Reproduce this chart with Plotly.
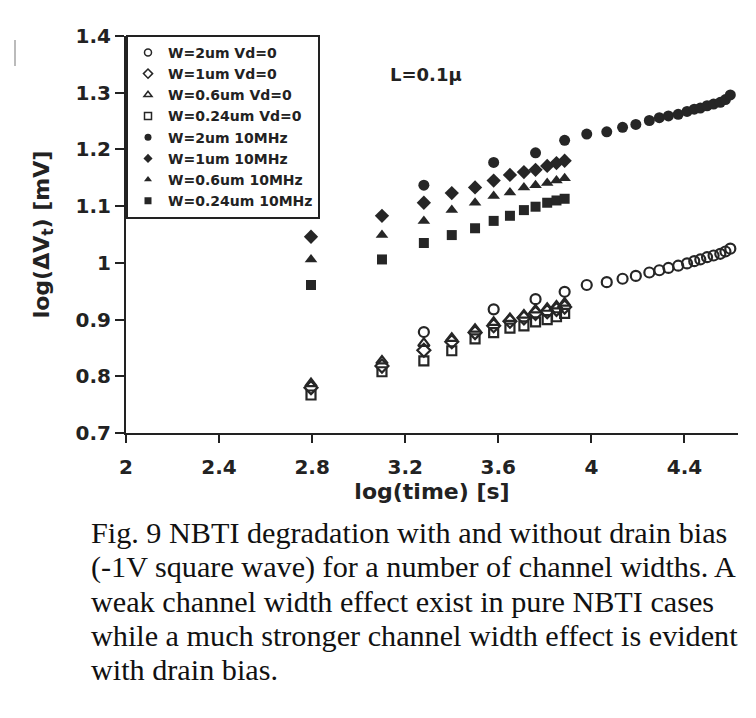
import plotly.graph_objects as go

# ---- data ----
x_groups = [2.795, 3.10, 3.28, 3.40, 3.50, 3.58, 3.65, 3.71, 3.76, 3.81, 3.85, 3.885]
x_long_tail = [3.98, 4.066, 4.134, 4.191, 4.249, 4.292, 4.331, 4.373, 4.411, 4.442,
               4.468, 4.497, 4.525, 4.554, 4.576, 4.597]
x_2um = [3.28, 3.58, 3.76, 3.885] + x_long_tail

y_2um_vd0 = [0.878, 0.918, 0.936, 0.949,
             0.961, 0.966, 0.972, 0.977, 0.983, 0.987, 0.991, 0.995, 0.999, 1.003,
             1.006, 1.010, 1.013, 1.016, 1.020, 1.025]
y_1um_vd0 = [0.780, 0.818, 0.846, 0.861, 0.877, 0.889, 0.897, 0.903, 0.911, 0.914, 0.918, 0.922]
y_06um_vd0 = [0.787, 0.827, 0.858, 0.867, 0.883, 0.895, 0.902, 0.908, 0.917, 0.920, 0.924, 0.929]
y_024um_vd0 = [0.767, 0.808, 0.827, 0.845, 0.866, 0.877, 0.885, 0.889, 0.896, 0.900, 0.905, 0.911]

y_2um_10m = [1.137, 1.177, 1.194, 1.216,
             1.227, 1.231, 1.239, 1.244, 1.251, 1.256, 1.259, 1.262, 1.267, 1.271,
             1.273, 1.277, 1.280, 1.283, 1.288, 1.296]
y_1um_10m = [1.046, 1.083, 1.106, 1.123, 1.133, 1.145, 1.155, 1.160, 1.164, 1.171, 1.176, 1.180]
y_06um_10m = [1.006, 1.049, 1.074, 1.093, 1.106, 1.118, 1.124, 1.133, 1.137, 1.141, 1.145, 1.149]
y_024um_10m = [0.961, 1.006, 1.035, 1.049, 1.061, 1.074, 1.083, 1.093, 1.099, 1.106, 1.110, 1.113]

names = ["W=2um Vd=0", "W=1um Vd=0", "W=0.6um Vd=0", "W=0.24um Vd=0",
         "W=2um 10MHz", "W=1um 10MHz", "W=0.6um 10MHz", "W=0.24um 10MHz"]
symbols = ["circle-open", "diamond-open", "triangle-up-open", "square-open",
           "circle", "diamond", "triangle-up", "square"]
xs = [x_2um, x_groups, x_groups, x_groups, x_2um, x_groups, x_groups, x_groups]
ys = [y_2um_vd0, y_1um_vd0, y_06um_vd0, y_024um_vd0,
      y_2um_10m, y_1um_10m, y_06um_10m, y_024um_10m]

x_ticks = [2, 2.4, 2.8, 3.2, 3.6, 4, 4.4]
y_ticks = [0.7, 0.8, 0.9, 1.0, 1.1, 1.2, 1.3, 1.4]

caption_lines = ["Fig. 9 NBTI degradation with and without drain bias",
                 "(-1V square wave) for a number of channel widths. A",
                 "weak channel width effect exist in pure NBTI cases",
                 "while a much stronger channel width effect is evident",
                 "with drain bias."]

INK = "#262626"
sizes = [10, 10, 10, 9, 11, 11, 11, 10]

fig = go.Figure()
for x, y, nm, sym, sz in zip(xs, ys, names, symbols, sizes):
    opened = sym.endswith("-open")
    fig.add_trace(go.Scatter(
        x=x, y=y, mode="markers", name=nm, showlegend=False,
        marker=dict(symbol=sym, size=sz, color=INK,
                    line=dict(color=INK, width=2.2 if opened else 0)),
    ))
# legend entries (smaller symbols, as in the reference)
for nm, sym in zip(names, symbols):
    opened = sym.endswith("-open")
    fig.add_trace(go.Scatter(
        x=[None], y=[None], mode="markers", name=nm,
        marker=dict(symbol=sym, size=7, color=INK,
                    line=dict(color=INK, width=1.5 if opened else 0)),
    ))

bold = dict(family="DejaVu Sans", color="#222222", weight="bold")

# plot area: page x 126..738, y 36..433 (page has an 8px body margin)
PL, PR, PT, PB = 118, 730, 28, 425
W, H = 756, 718
plot_h = PB - PT
plot_w = PR - PL

annotations = [
    dict(text="L=0.1μ", x=3.29, y=1.332, xref="x", yref="y",
         showarrow=False, font=dict(size=18, **bold)),
]
cap_top = 514 - 8
for i, line in enumerate(caption_lines):
    ytop = cap_top + i * 34.3
    annotations.append(dict(
        text=line, x=(81 - PL) / plot_w, y=(PB - ytop) / plot_h,
        xref="paper", yref="paper", xanchor="left", yanchor="top",
        align="left", showarrow=False,
        font=dict(family="Liberation Serif", size=30.2, color="#111111")))

fig.update_layout(
    width=W, height=H,
    margin=dict(l=PL, r=W - PR, t=PT, b=H - PB),
    paper_bgcolor="white", plot_bgcolor="white",
    showlegend=True,
    legend=dict(x=0, y=1.003, xanchor="left", yanchor="top",
                bgcolor="white", bordercolor="#222222", borderwidth=2,
                font=dict(size=14, **bold), tracegroupgap=0,
                itemwidth=30),
    xaxis=dict(range=[2, 4.63], tickvals=x_ticks, ticktext=[f"{v:g}" for v in x_ticks],
               showgrid=False, zeroline=False, showline=True,
               linecolor="#222222", linewidth=2,
               ticks="outside", ticklen=8, tickwidth=2, tickcolor="#222222",
               tickfont=dict(size=20, **bold), ticklabelstandoff=7,
               title=dict(text="log(time) [s]", font=dict(size=22, **bold), standoff=3)),
    yaxis=dict(range=[0.7, 1.4], tickvals=y_ticks, ticktext=[f"{v:g}" for v in y_ticks],
               showgrid=False, zeroline=False, showline=True,
               linecolor="#222222", linewidth=2,
               ticks="outside", ticklen=9, tickwidth=2, tickcolor="#222222",
               tickfont=dict(size=20, **bold), ticklabelstandoff=0,
               title=dict(text="log(ΔV<sub>t</sub>) [mV]", font=dict(size=22, **bold),
                          standoff=20)),
    annotations=annotations,
    shapes=[
        dict(type="line", xref="paper", yref="paper",
             x0=(7 - PL) / plot_w, x1=(7 - PL) / plot_w,
             y0=(PB - 32) / plot_h, y1=(PB - 58) / plot_h,
             line=dict(color="#bbbbbb", width=2)),
    ],
)

fig.write_html("out.html")
